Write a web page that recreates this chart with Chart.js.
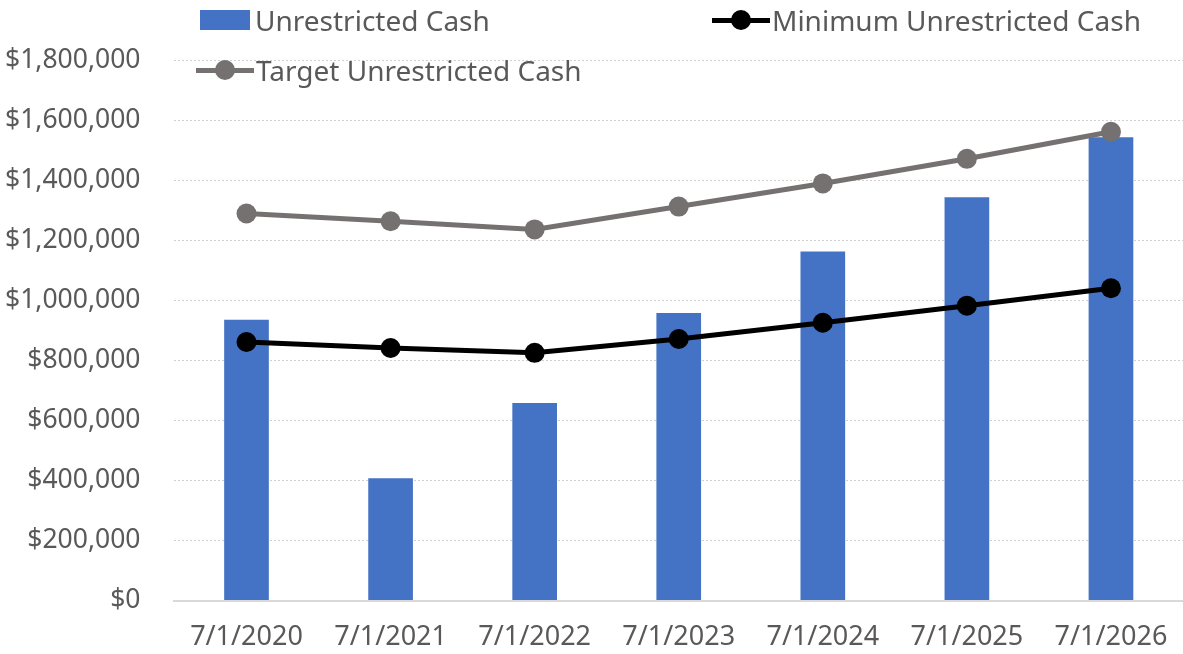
<!DOCTYPE html>
<html lang="en">

<head>
  <meta charset="UTF-8">
  <title>Unrestricted Cash</title>
  <script src="https://cdn.jsdelivr.net/npm/chart.js"></script>
  <style>
    html, body {
      margin: 0;
      padding: 0;
      background: #ffffff;
      overflow: hidden;
    }

    .chart-container {
      position: relative;
      width: 1183px;
      height: 654px;
      overflow: hidden;
    }

    /* legenda montada a mao, sobreposta ao grafico */
    .legend-item {
      position: absolute;
      display: flex;
      align-items: center;
      font-family: "Noto Sans", sans-serif;
      font-size: 28px;
      line-height: 38px;
      color: #595959;
      white-space: nowrap;
    }

    .legend-box {
      width: 50px;
      height: 20px;
      margin-right: 5px;
    }

    .legend-line {
      position: relative;
      width: 58px;
      height: 20px;
      margin-right: 2px;
    }

    .legend-line span.bar {
      position: absolute;
      left: 0;
      right: 0;
      top: 7.5px;
      height: 5px;
    }

    .legend-line span.dot {
      position: absolute;
      left: 19px;
      top: 0;
      width: 20px;
      height: 20px;
      border-radius: 50%;
    }
  </style>
</head>

<body>
  <div class="chart-container">
    <canvas id="cashChart"></canvas>
    <div id="legend"></div>
  </div>

  <script>
    const labels = ['7/1/2020', '7/1/2021', '7/1/2022', '7/1/2023', '7/1/2024', '7/1/2025', '7/1/2026'];
    const unrestrictedCash = [935000, 407000, 658000, 958000, 1162000, 1343000, 1543000];
    const minimumCash = [861000, 841000, 825000, 871000, 925000, 982000, 1040000];
    const targetCash = [1289000, 1263000, 1236000, 1312000, 1389000, 1471000, 1561000];
    const yTicks = [0, 200000, 400000, 600000, 800000, 1000000, 1200000, 1400000, 1600000, 1800000];

    const blue = '#4472C4';
    const black = '#000000';
    const gray = '#767171';
    const textColor = '#595959';

    // zera o padding extra que o Chart.js reserva para os rotulos das pontas
    function noEdgePadding(scale) {
      scale.paddingLeft = 0;
      scale.paddingRight = 0;
      scale.paddingTop = 0;
      scale.paddingBottom = 0;
    }

    const ctx = document.getElementById('cashChart').getContext('2d');
    const cashChart = new Chart(ctx, {
      type: 'bar',
      data: {
        labels: labels,
        datasets: [{
          type: 'bar',
          label: 'Unrestricted Cash',
          data: unrestrictedCash,
          backgroundColor: blue,
          barPercentage: 0.31,
          categoryPercentage: 1,
          order: 3
        }, {
          type: 'line',
          label: 'Minimum Unrestricted Cash',
          data: minimumCash,
          borderColor: black,
          backgroundColor: black,
          borderWidth: 5,
          pointRadius: 10,
          pointHoverRadius: 10,
          pointBorderWidth: 0,
          tension: 0,
          order: 1
        }, {
          type: 'line',
          label: 'Target Unrestricted Cash',
          data: targetCash,
          borderColor: gray,
          backgroundColor: gray,
          borderWidth: 5,
          pointRadius: 10,
          pointHoverRadius: 10,
          pointBorderWidth: 0,
          tension: 0,
          order: 2
        }]
      },
      options: {
        responsive: true,
        maintainAspectRatio: false,
        animation: false,
        layout: {
          autoPadding: false,
          // o padding dos ticks entra duas vezes na conta, por isso os negativos
          padding: { top: 60, left: -29, right: 0, bottom: -21 }
        },
        plugins: {
          legend: { display: false },
          tooltip: { enabled: false }
        },
        scales: {
          x: {
            offset: true,
            afterFit: noEdgePadding,
            grid: { display: false, drawTicks: false },
            border: { display: true, color: '#D9D9D9', width: 2 },
            ticks: {
              color: textColor,
              padding: 21,
              maxRotation: 0,
              font: { family: 'Noto Sans', size: 27 }
            }
          },
          y: {
            min: 0,
            max: 1800000,
            afterFit: noEdgePadding,
            afterBuildTicks: (scale) => {
              scale.ticks = yTicks.map(v => ({ value: v }));
            },
            grid: {
              color: (c) => c.tick && c.tick.value === 0 ? 'rgba(0,0,0,0)' : '#D0D0D0',
              lineWidth: 1,
              drawTicks: false
            },
            border: { display: false, dash: [2, 2] },
            ticks: {
              color: textColor,
              padding: 34,
              font: { family: 'Noto Sans', size: 26.5 },
              callback: (v) => '$' + Number(v).toLocaleString('en-US')
            }
          }
        }
      }
    });

    // legenda: posicoes iguais a figura original
    const legendPos = [
      { left: 200, top: 1 },
      { left: 712, top: 1 },
      { left: 196, top: 51 }
    ];
    const legendEl = document.getElementById('legend');
    cashChart.data.datasets.forEach((ds, i) => {
      const item = document.createElement('div');
      item.className = 'legend-item';
      item.style.left = legendPos[i].left + 'px';
      item.style.top = legendPos[i].top + 'px';
      let marker;
      if (ds.type === 'bar') {
        marker = '<div class="legend-box" style="background:' + ds.backgroundColor + '"></div>';
      } else {
        marker = '<div class="legend-line"><span class="bar" style="background:' + ds.borderColor +
          '"></span><span class="dot" style="background:' + ds.borderColor + '"></span></div>';
      }
      item.innerHTML = marker + '<span>' + ds.label + '</span>';
      legendEl.appendChild(item);
    });
  </script>
</body>

</html>
